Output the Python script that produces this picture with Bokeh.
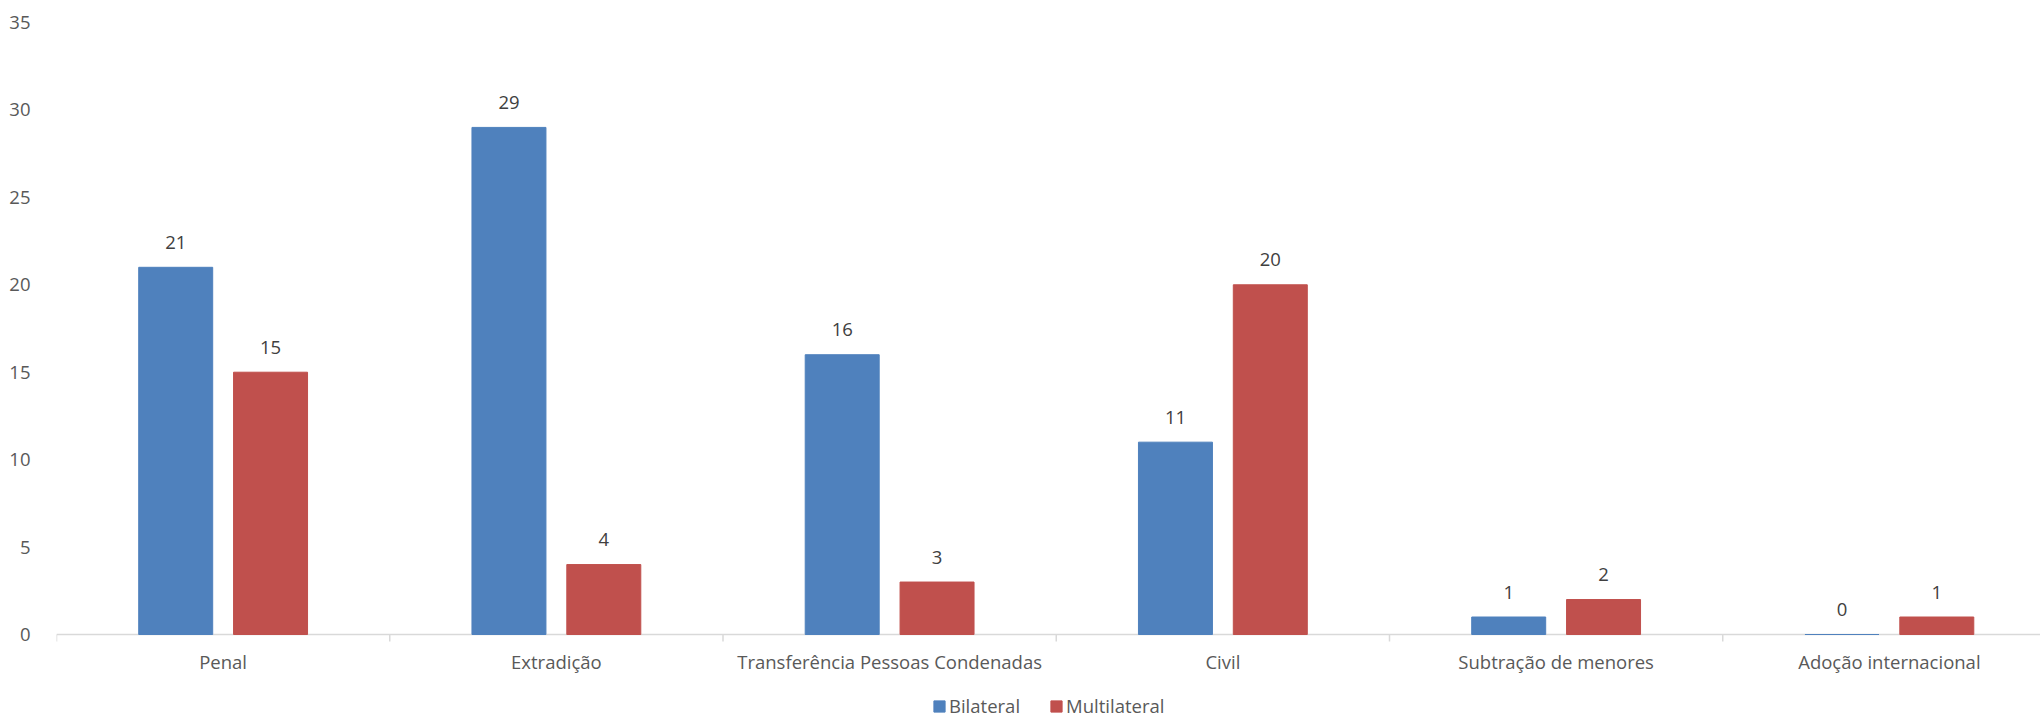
from bokeh.plotting import figure
from bokeh.models import (ColumnDataSource, Range1d, FixedTicker, Legend, LegendItem)
from bokeh.core.properties import value
from bokeh.embed import file_html
from bokeh.resources import INLINE

categories = ["Penal", "Extradição", "Transferência Pessoas Condenadas", "Civil",
              "Subtração de menores", "Adoção internacional"]
bilateral = [21, 29, 16, 11, 1, 0]
multilateral = [15, 4, 3, 20, 2, 1]
y_ticks = [0, 5, 10, 15, 20, 25, 30, 35]

FONT = "Open Sans"
BLUE = "#4F81BD"
RED = "#C0504D"
AXIS_TXT = "#595959"
LBL_TXT = "#404040"
GRID = "#d9d9d9"

OFF = 0.1423
BW = 0.222
CAT_PX = 333.25
LEFT = 56
TOP = 22
W, H = 2040, 718
FW = W - LEFT
FH = H - TOP
PLOT_H = 612            # pixels from value 0 to value 35
Y_MAX = 35
PX_PER_UNIT = PLOT_H / Y_MAX
BELOW_PX = FH - PLOT_H  # room under the zero line for labels and legend

centers = [i + 0.5 for i in range(len(categories))]
bounds = list(range(len(categories) + 1))

src_b = ColumnDataSource(dict(x=[c - OFF for c in centers], top=bilateral,
                              lbl=[str(v) for v in bilateral]))
src_m = ColumnDataSource(dict(x=[c + OFF for c in centers], top=multilateral,
                              lbl=[str(v) for v in multilateral]))
src_cat = ColumnDataSource(dict(x=centers, y=[0] * len(centers), name=categories))

p = figure(frame_width=FW, frame_height=FH, output_backend="svg", toolbar_location=None,
           x_range=Range1d(0, FW / CAT_PX),
           y_range=Range1d(-BELOW_PX / PX_PER_UNIT, Y_MAX),
           min_border_left=LEFT, min_border_top=TOP, min_border_right=0, min_border_bottom=0)
p.outline_line_color = None
p.xgrid.grid_line_color = None
p.ygrid.grid_line_color = None
p.background_fill_color = "white"
p.border_fill_color = "white"
p.xaxis.visible = False

# category axis line and separators
p.segment(x0=[bounds[0]], y0=[0], x1=[bounds[-1]], y1=[0], line_color=GRID, line_width=1.5)
p.segment(x0=bounds, y0=[0] * len(bounds), x1=bounds,
          y1=[-7 / PX_PER_UNIT] * len(bounds), line_color=GRID, line_width=1.5)

rb = p.vbar(x="x", top="top", width=BW, source=src_b, fill_color=BLUE, line_color=BLUE)
rm = p.vbar(x="x", top="top", width=BW, source=src_m, fill_color=RED, line_color=RED)

for s in (src_b, src_m):
    p.text(x="x", y="top", text="lbl", source=s, text_align="center", text_baseline="middle",
           y_offset=-25, text_font=value(FONT), text_font_size="18.5px", text_color=LBL_TXT)

# category labels
p.text(x="x", y="y", text="name", source=src_cat, text_align="center", text_baseline="middle",
       y_offset=27, text_font=value(FONT), text_font_size="18.5px", text_color=AXIS_TXT)

ya = p.yaxis[0]
ya.ticker = FixedTicker(ticks=y_ticks)
ya.axis_line_color = None
ya.major_tick_line_color = None
ya.minor_tick_line_color = None
ya.major_label_text_font = FONT
ya.major_label_text_font_size = "18.5px"
ya.major_label_text_color = AXIS_TXT
ya.major_label_standoff = 20

legend = Legend(items=[LegendItem(label="Bilateral", renderers=[rb]),
                       LegendItem(label="Multilateral", renderers=[rm])],
                location=(876, 0), orientation="horizontal",
                border_line_color=None, background_fill_alpha=0,
                padding=0, margin=0, spacing=29, label_standoff=3,
                glyph_width=14, glyph_height=14, label_height=14,
                label_text_font=FONT, label_text_font_size="18.5px",
                label_text_color=AXIS_TXT)
p.add_layout(legend, "center")

open("out.html", "w").write(file_html(p, INLINE))
